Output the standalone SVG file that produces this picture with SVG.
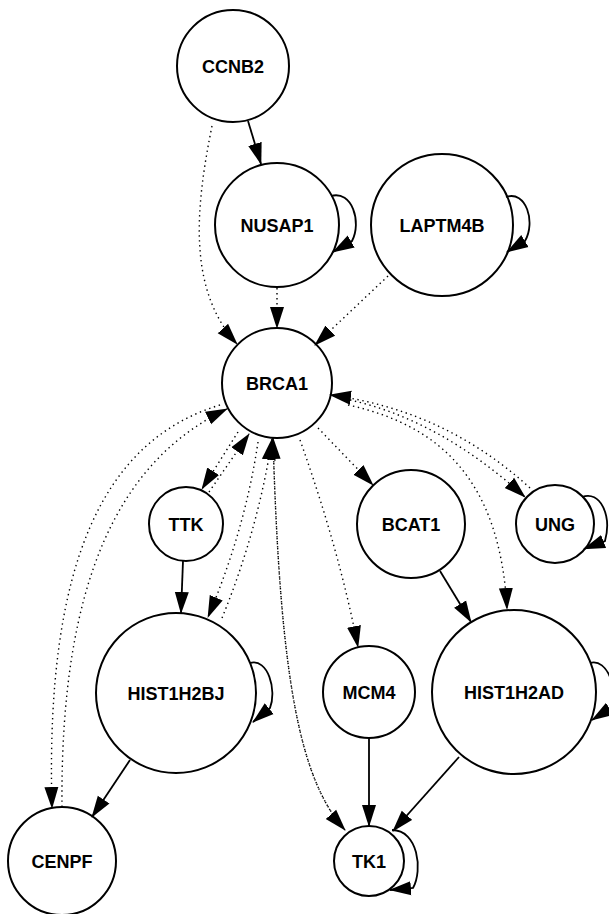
<svg xmlns="http://www.w3.org/2000/svg" width="609" height="914" viewBox="0 0 609 914">
<style>
.node circle{fill:#fff;stroke:#000;stroke-width:2}
.node text{font-family:"Liberation Sans",Arial,sans-serif;font-weight:bold;font-size:18px;text-anchor:middle;fill:#000}
.e{fill:none;stroke:#000;stroke-width:1.8;marker-end:url(#ah)}
.d{fill:none;stroke:#000;stroke-width:1.4;stroke-dasharray:1.4 3.6;marker-end:url(#ah)}
</style>
<defs>
<marker id="ah" markerUnits="userSpaceOnUse" markerWidth="22" markerHeight="15" viewBox="0 0 22 14" refX="21" refY="7" orient="auto">
<path d="M0,0 L22,7 L0,14 z" fill="#000"/>
</marker>
</defs>
<rect width="609" height="914" fill="#fff"/>
<g id="node-CCNB2" class="node"><circle cx="233" cy="66" r="56"/><text x="233" y="72.5">CCNB2</text></g>
<g id="node-NUSAP1" class="node"><circle cx="277" cy="225" r="62"/><text x="277" y="231.5">NUSAP1</text></g>
<g id="node-LAPTM4B" class="node"><circle cx="442" cy="225" r="71"/><text x="442" y="231.5">LAPTM4B</text></g>
<g id="node-BRCA1" class="node"><circle cx="277" cy="383" r="55"/><text x="277" y="389.5">BRCA1</text></g>
<g id="node-TTK" class="node"><circle cx="186" cy="524" r="37"/><text x="186" y="530.5">TTK</text></g>
<g id="node-BCAT1" class="node"><circle cx="411" cy="524" r="54"/><text x="411" y="530.5">BCAT1</text></g>
<g id="node-UNG" class="node"><circle cx="555" cy="524" r="39"/><text x="555" y="530.5">UNG</text></g>
<g id="node-HIST1H2BJ" class="node"><circle cx="176" cy="693" r="80"/><text x="176" y="699.5">HIST1H2BJ</text></g>
<g id="node-MCM4" class="node"><circle cx="369" cy="692" r="46"/><text x="369" y="698.5">MCM4</text></g>
<g id="node-HIST1H2AD" class="node"><circle cx="514" cy="692" r="82"/><text x="514" y="698.5">HIST1H2AD</text></g>
<g id="node-CENPF" class="node"><circle cx="62" cy="861" r="54"/><text x="62" y="867.5">CENPF</text></g>
<g id="node-TK1" class="node"><circle cx="369" cy="861" r="35"/><text x="369" y="867.5">TK1</text></g>
<g id="connectors">
<!-- solid -->
<path class="e" d="M248,121 L261,164"/>
<path class="e" d="M183,561 L181,613"/>
<path class="e" d="M440,571 L471,622"/>
<path class="e" d="M130,760 L92,817"/>
<path class="e" d="M369,738 L369,826"/>
<path class="e" d="M459,757 L393,831"/>
<!-- self loops -->
<path class="e" d="M331,196 C352,190 362,222 352,241 L333,252"/>
<path class="e" d="M506,197 C526,190 536,222 525,241 L507,252"/>
<path class="e" d="M582,497 C600,490 612,515 605,541 L584,549"/>
<path class="e" d="M250,663 C268,658 277,690 270,708 L253,722"/>
<path class="e" d="M590,663 C608,658 618,690 611,708 L592,720"/>
<path class="e" d="M392,830 C418,830 423,870 413,888 L390,890"/>
<!-- dotted -->
<path class="d" d="M212,126 C195,210 188,290 237,344"/>
<path class="d" d="M277,288 L277,328"/>
<path class="d" d="M388,276 L315,345"/>
<path class="d" d="M318,428 L373,485"/>
<path class="d" d="M300,440 C325,510 345,580 358,647"/>
<path class="d" d="M273,438 C280,680 300,780 345,830"/>
<path class="d" d="M345,830 C300,780 280,680 273,438"/>
<path class="d" d="M258,442 Q245,530 208,617"/>
<path class="d" d="M222,618 Q258,530 272,439"/>
<path class="d" d="M238,432 L202,489"/>
<path class="d" d="M209,492 L249,434"/>
<path class="d" d="M220,405 C105,440 45,560 52,808"/>
<path class="d" d="M62,807 C60,580 120,460 227,409"/>
<path class="d" d="M350,400 Q440,420 525,497"/>
<path class="d" d="M530,488 Q445,410 330,395"/>
<path class="d" d="M348,405 C440,425 500,480 507,609"/>
</g>
</svg>
